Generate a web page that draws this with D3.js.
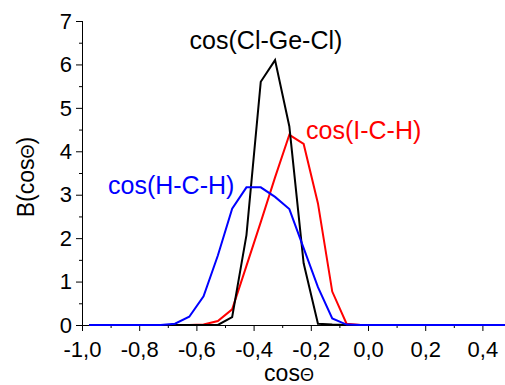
<!DOCTYPE html>
<html>
<head>
<meta charset="utf-8">
<script src="https://cdn.jsdelivr.net/npm/d3@7"></script>
<style>
  body { margin: 0; background: #fff; }
  svg { display: block; font-family: "Liberation Sans", Arial, Helvetica, sans-serif; }
</style>
</head>
<body>
<div id="chart"></div>
<script>
// bin centres of cos(theta)
var cosBins = [-0.975, -0.925, -0.875, -0.825, -0.775, -0.725, -0.675, -0.625, -0.575, -0.525,
               -0.475, -0.425, -0.375, -0.325, -0.275, -0.225, -0.175, -0.125, -0.075, -0.025,
               0.025, 0.075, 0.125, 0.175, 0.225, 0.275, 0.325, 0.375, 0.425, 0.475, 0.525];

var hchValues = [0, 0, 0, 0, 0, 0, 0.03, 0.19, 0.66, 1.6,
                 2.68, 3.17, 3.17, 2.95, 2.67, 1.77, 0.87, 0.15, 0.01, 0,
                 0, 0, 0, 0, 0, 0, 0, 0, 0, 0, 0];
var ichValues = [0, 0, 0, 0, 0, 0, 0, 0, 0.01, 0.09,
                 0.36, 1.36, 2.37, 3.4, 4.38, 4.17, 2.8, 0.77, 0.03, 0,
                 0, 0, 0, 0, 0, 0, 0, 0, 0, 0, 0];
var clgeclValues = [0, 0, 0, 0, 0, 0, 0, 0, 0, 0,
                    0.18, 2.07, 5.6, 6.1, 4.57, 1.42, 0.03, 0.01, 0, 0,
                    0, 0, 0, 0, 0, 0, 0, 0, 0, 0, 0];

var xTicks = [-1.0, -0.8, -0.6, -0.4, -0.2, 0.0, 0.2, 0.4];
var yTicks = [0, 1, 2, 3, 4, 5, 6, 7];

var series = [
  {name: "cos(Cl-Ge-Cl)", values: clgeclValues, color: "#000000", lx: 266, ly: 49},
  {name: "cos(I-C-H)",    values: ichValues,    color: "#ff0000", lx: 306, ly: 139},
  {name: "cos(H-C-H)",    values: hchValues,    color: "#0000ff", lx: 108, ly: 194}
];

var W = 505, H = 385;
var x = d3.scaleLinear().domain([-1.0, 0.479]).range([82, 505]);
var y = d3.scaleLinear().domain([0, 7]).range([325, 21]);

var svg = d3.select("#chart").append("svg")
  .attr("width", W).attr("height", H);

svg.append("clipPath").attr("id", "plotclip")
  .append("rect").attr("x", 82).attr("y", 0).attr("width", W - 82).attr("height", 340);

var fmt = function(d){ return d3.format(".1f")(d).replace(".", ",").replace("−", "-"); };

// x axis
var xAxis = svg.append("g").attr("transform", "translate(0," + y(0) + ")");
xAxis.call(d3.axisBottom(x).tickValues(d3.range(-1.0, 0.45, 0.1)).tickSize(3).tickFormat(""));
xAxis.call(function(g){
  g.selectAll(".tick line").attr("y2", function(d){ return Math.abs(Math.round(d * 10)) % 2 === 0 ? 6 : 3; });
});
xAxis.select(".domain").attr("d", "M82,0.5H505");
xAxis.selectAll(".tick")
  .filter(function(d){ return xTicks.some(function(t){ return Math.abs(t - d) < 1e-6; }); })
  .append("text")
  .attr("fill", "#000").attr("y", 32).attr("font-size", 22)
  .attr("text-anchor", "middle")
  .text(function(d){ return fmt(d); });

// y axis
var yAxis = svg.append("g").attr("transform", "translate(82,0)");
yAxis.call(d3.axisLeft(y).tickValues(d3.range(0, 7.01, 0.5)).tickSize(3).tickFormat(""));
yAxis.call(function(g){
  g.selectAll(".tick line").attr("x2", function(d){ return d % 1 === 0 ? -6 : -3; });
});
yAxis.select(".domain").attr("d", "M0.5,21V325");
yAxis.selectAll(".tick")
  .filter(function(d){ return yTicks.indexOf(d) >= 0; })
  .append("text")
  .attr("fill", "#000").attr("x", -10).attr("dy", "0.33em").attr("font-size", 22)
  .attr("text-anchor", "end")
  .text(function(d){ return d; });
svg.selectAll("g").attr("font-family", null).attr("font-size", null);

// lines
var line = d3.line()
  .x(function(d, i){ return x(cosBins[i]); })
  .y(function(d){ return y(d); });

var plot = svg.append("g").attr("clip-path", "url(#plotclip)");
[series[1], series[0], series[2]].forEach(function(s){
  plot.append("path")
    .datum(s.values)
    .attr("fill", "none")
    .attr("stroke", s.color)
    .attr("stroke-width", 2)
    .attr("stroke-linejoin", "miter")
    .attr("d", line);
});

// series labels
series.forEach(function(s, i){
  svg.append("text")
    .attr("x", s.lx).attr("y", s.ly)
    .attr("fill", s.color)
    .attr("font-size", 25)
    .attr("text-anchor", i === 0 ? "middle" : "start")
    .text(s.name);
});

// axis titles
var xt = svg.append("text").attr("x", 289).attr("y", 381)
  .attr("text-anchor", "middle").attr("font-size", 23);
xt.append("tspan").text("cos");
xt.append("tspan").attr("font-size", 18).text("Θ");

var yt = svg.append("text")
  .attr("transform", "translate(34,177) rotate(-90)")
  .attr("text-anchor", "middle").attr("font-size", 23);
yt.append("tspan").text("B(cos");
yt.append("tspan").attr("font-size", 18).text("Θ");
yt.append("tspan").text(")");
</script>
</body>
</html>
